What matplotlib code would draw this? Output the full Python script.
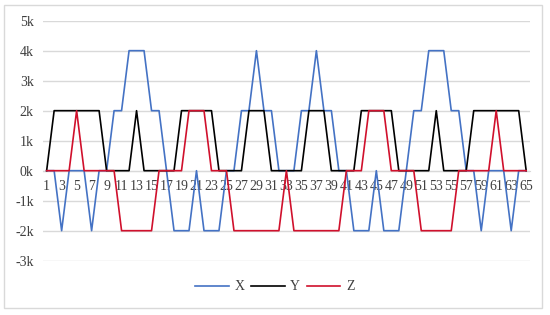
import matplotlib
matplotlib.use('Agg')
import matplotlib.pyplot as plt
from matplotlib.patches import Rectangle
from matplotlib.ticker import FuncFormatter

# sample index 1..65
idx = list(range(1, 66))

x_vals = [0, 0, -2000, 0, 0, 0, -2000, 0, 0, 2000, 2000, 4000, 4000, 4000, 2000, 2000,
          0, -2000, -2000, -2000, 0, -2000, -2000, -2000, 0, 0, 2000, 2000, 4000, 2000,
          2000, 0, 0, 0, 2000, 2000, 4000, 2000, 2000, 0, 0, -2000, -2000, -2000, 0,
          -2000, -2000, -2000, 0, 2000, 2000, 4000, 4000, 4000, 2000, 2000, 0, 0, -2000,
          0, 0, 0, -2000, 0, 0]

y_vals = [0, 2000, 2000, 2000, 2000, 2000, 2000, 2000, 0, 0, 0, 0, 2000, 0, 0, 0,
          0, 0, 2000, 2000, 2000, 2000, 2000, 0, 0, 0, 0, 2000, 2000, 2000, 0, 0,
          0, 0, 0, 2000, 2000, 2000, 0, 0, 0, 0, 2000, 2000, 2000, 2000, 2000, 0,
          0, 0, 0, 0, 2000, 0, 0, 0, 0, 2000, 2000, 2000, 2000, 2000, 2000, 2000, 0]

z_vals = [0, 0, 0, 0, 2000, 0, 0, 0, 0, 0, -2000, -2000, -2000, -2000, -2000, 0,
          0, 0, 0, 2000, 2000, 2000, 0, 0, 0, -2000, -2000, -2000, -2000, -2000,
          -2000, -2000, 0, -2000, -2000, -2000, -2000, -2000, -2000, -2000, 0, 0, 0,
          2000, 2000, 2000, 0, 0, 0, 0, -2000, -2000, -2000, -2000, -2000, 0, 0, 0,
          0, 0, 2000, 0, 0, 0, 0]

y_ticks = [-3000, -2000, -1000, 0, 1000, 2000, 3000, 4000, 5000]

plt.rcParams['font.family'] = ['Liberation Serif', 'DejaVu Serif']
grid_c = '#d9d9d9'
text_c = '#404040'

fig = plt.figure(figsize=(5.5, 3.15), dpi=100)
ax = fig.add_axes([0.078, 0.1724, 0.8855, 0.762])

ax.plot(idx, x_vals, color='#4472C4', lw=1.2, label='X', zorder=3)
ax.plot(idx, y_vals, color='#000000', lw=1.2, label='Y', zorder=3)
ax.plot(idx, z_vals, color='#D0102C', lw=1.2, label='Z', zorder=4)

ax.set_xlim(0.5, 65.5)
ax.set_ylim(-3000, 5000)
ax.set_yticks(y_ticks)
ax.yaxis.set_major_formatter(FuncFormatter(lambda v, p: f'{int(v / 1000)}k'))
ax.set_xticks(idx[::2])
ax.set_xticklabels([str(i) for i in idx[::2]])
ax.grid(axis='y', color=grid_c, lw=1.0, zorder=0)

for s in ['top', 'right', 'left']:
    ax.spines[s].set_visible(False)
ax.spines['bottom'].set_position(('data', 0))
ax.spines['bottom'].set_color(grid_c)
ax.tick_params(axis='x', length=0, pad=7, labelsize=10, colors=text_c)
ax.tick_params(axis='y', length=0, pad=6.5, labelsize=10, colors=text_c)

fig.legend(loc='center', bbox_to_anchor=(0.5, 0.089), ncol=3, frameon=False,
           fontsize=10, handlelength=2.4, handletextpad=0.4, columnspacing=0.5,
           labelcolor=text_c)

# chart frame
fig.patches.append(Rectangle((4 / 550, 7 / 315), 538 / 550, 303 / 315,
                             transform=fig.transFigure, fill=False,
                             edgecolor=grid_c, lw=1.0))

fig.savefig('out.png', dpi=100)
